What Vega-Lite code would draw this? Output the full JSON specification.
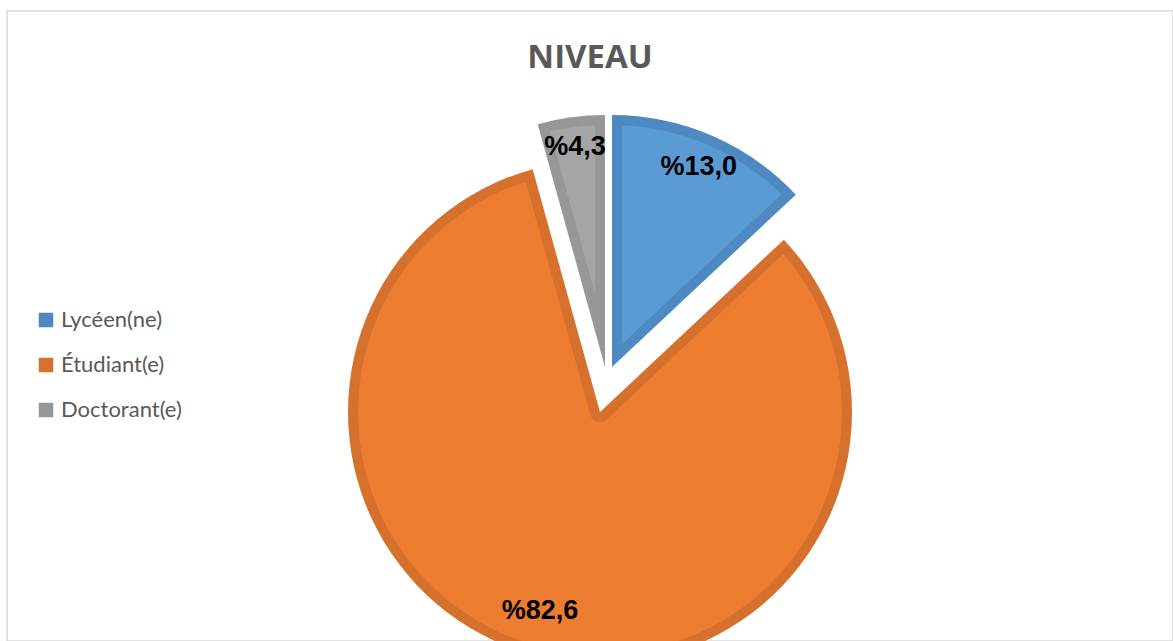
{
  "$schema": "https://vega.github.io/schema/vega-lite/v6.json",
  "width": 1166,
  "height": 630,
  "autosize": {"type": "none"},
  "padding": {"left": 7, "top": 11, "right": 0, "bottom": 0},
  "background": "white",
  "view": {"stroke": "#d9d9d9", "strokeWidth": 1.5, "fill": "white"},
  "config": {
    "view": {"stroke": "#d9d9d9", "strokeWidth": 1.5}
  },
  "title": {
    "text": "NIVEAU",
    "anchor": "middle",
    "frame": "group",
    "orient": "top",
    "baseline": "alphabetic",
    "offset": -90,
    "font": "Open Sans",
    "fontSize": 33,
    "fontWeight": "bold",
    "color": "#595959"
  },
  "data": {
    "values": [
      {"cat": "Lycéen(ne)", "value": 13.0, "label": "%13,0", "order": 1},
      {"cat": "Étudiant(e)", "value": 82.6, "label": "%82,6", "order": 2},
      {"cat": "Doctorant(e)", "value": 4.3, "label": "%4,3", "order": 3}
    ]
  },
  "transform": [
    {"window": [{"op": "sum", "field": "value", "as": "cum"}], "sort": [{"field": "order"}], "frame": [null, 0]},
    {"calculate": "datum.cum - datum.value", "as": "start"},
    {"calculate": "datum.cum - datum.value / 2", "as": "mid"}
  ],
  "layer": [
    {
      "transform": [{"filter": "datum.cat === 'Lycéen(ne)'"}],
      "layer": [
        {
          "mark": {"type": "arc", "radius": 252, "xOffset": 22, "yOffset": 41},
          "encoding": {
            "theta": {"field": "start", "type": "quantitative", "stack": null, "scale": {"domain": [0, 99.9], "zero": true}},
            "theta2": {"field": "cum"},
            "color": {"field": "cat", "type": "nominal",
              "scale": {"domain": ["Lycéen(ne)", "Étudiant(e)", "Doctorant(e)"], "range": ["#4F89C2", "#D6712D", "#979797"]},
              "legend": {"title": null, "orient": "none", "legendX": 28, "legendY": 298, "padding": 0,
                "symbolType": "square", "symbolSize": 210, "symbolStrokeWidth": 0, "symbolOpacity": 1,
                "labelFont": "Lato", "labelFontSize": 22, "labelColor": "#595959", "labelOffset": 4,
                "rowPadding": 23}
            }
          }
        },
        {
          "mark": {"type": "arc", "radius": 242, "radius2": 25.16, "padAngle": 0.0822, "fill": "#5B9BD5", "xOffset": 22, "yOffset": 41},
          "encoding": {
            "theta": {"field": "start", "type": "quantitative", "stack": null},
            "theta2": {"field": "cum"}
          }
        },
        {
          "mark": {"type": "text", "radius": 218, "xOffset": 22, "yOffset": 41, "font": "Liberation Sans", "fontSize": 27, "fontWeight": "bold", "color": "black", "align": "center", "baseline": "middle"},
          "encoding": {
            "theta": {"field": "mid", "type": "quantitative", "stack": null},
            "text": {"field": "label"}
          }
        }
      ]
    },
    {
      "transform": [{"filter": "datum.cat === 'Étudiant(e)'"}],
      "layer": [
        {
          "mark": {"type": "arc", "radius": 252, "xOffset": 10, "yOffset": 86},
          "encoding": {
            "theta": {"field": "start", "type": "quantitative", "stack": null},
            "theta2": {"field": "cum"},
            "color": {"field": "cat", "type": "nominal"}
          }
        },
        {
          "mark": {"type": "arc", "radius": 242, "radius2": 10, "padAngle": 0.0826, "fill": "#ED7D31", "xOffset": 10, "yOffset": 86},
          "encoding": {
            "theta": {"field": "start", "type": "quantitative", "stack": null},
            "theta2": {"field": "cum"}
          }
        },
        {
          "mark": {"type": "text", "radius": 207, "xOffset": 6, "yOffset": 86, "font": "Liberation Sans", "fontSize": 27, "fontWeight": "bold", "color": "black", "align": "center", "baseline": "middle"},
          "encoding": {
            "theta": {"field": "mid", "type": "quantitative", "stack": null},
            "text": {"field": "label"}
          }
        }
      ]
    },
    {
      "transform": [{"filter": "datum.cat === 'Doctorant(e)'"}],
      "layer": [
        {
          "mark": {"type": "arc", "radius": 252, "xOffset": 15, "yOffset": 41},
          "encoding": {
            "theta": {"field": "start", "type": "quantitative", "stack": null},
            "theta2": {"field": "cum"},
            "color": {"field": "cat", "type": "nominal"}
          }
        },
        {
          "mark": {"type": "arc", "radius": 242, "radius2": 74.17, "padAngle": 0.079, "fill": "#A5A5A5", "xOffset": 15, "yOffset": 41},
          "encoding": {
            "theta": {"field": "start", "type": "quantitative", "stack": null},
            "theta2": {"field": "cum"}
          }
        },
        {
          "mark": {"type": "text", "radius": 222, "xOffset": 15, "yOffset": 41, "font": "Liberation Sans", "fontSize": 27, "fontWeight": "bold", "color": "black", "align": "center", "baseline": "middle"},
          "encoding": {
            "theta": {"field": "mid", "type": "quantitative", "stack": null},
            "text": {"field": "label"}
          }
        }
      ]
    }
  ]
}
